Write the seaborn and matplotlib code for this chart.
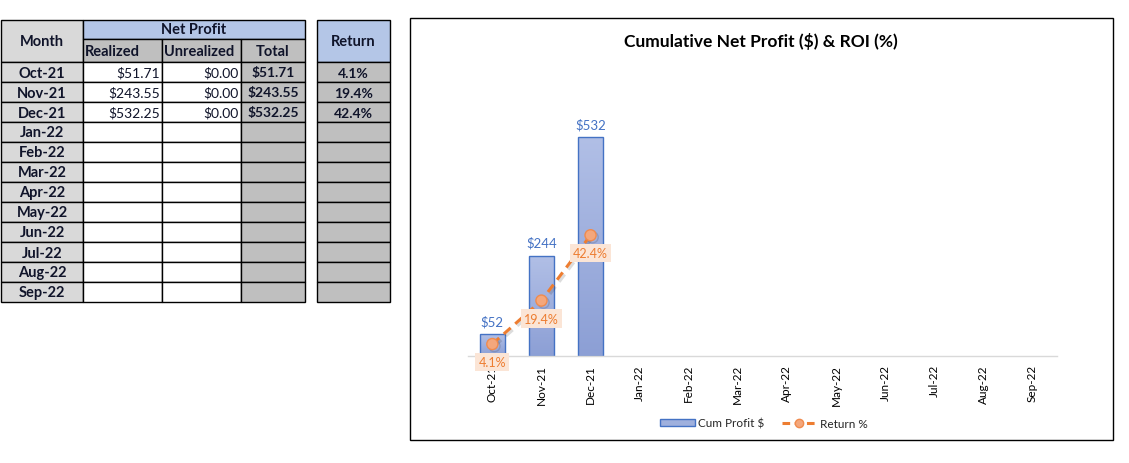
import numpy as np
import pandas as pd
import matplotlib
matplotlib.use("Agg")
import matplotlib.pyplot as plt
import seaborn as sns
from matplotlib.patches import Rectangle, Patch
from matplotlib.lines import Line2D
import matplotlib.patheffects as pe
from matplotlib.colors import LinearSegmentedColormap

# ---------------- data ----------------
months = ["Oct-21", "Nov-21", "Dec-21", "Jan-22", "Feb-22", "Mar-22",
          "Apr-22", "May-22", "Jun-22", "Jul-22", "Aug-22", "Sep-22"]
realized = [51.71, 243.55, 532.25]
unrealized = [0.00, 0.00, 0.00]
total = [51.71, 243.55, 532.25]
returns = [4.1, 19.4, 42.4]
title = "Cumulative Net Profit ($) & ROI (%)"
legend_bar = "Cum Profit $"
legend_line = "Return %"

sns.set_theme(style="white")
plt.rcParams["font.family"] = ["Lato", "DejaVu Sans"]

W, H = 1129, 464
fig = plt.figure(figsize=(W / 100, H / 100), dpi=100)
fig.patch.set_facecolor("white")

# background axes in pixel coordinates (table + chart frame)
bg = fig.add_axes([0, 0, 1, 1], zorder=0)
bg.set_xlim(0, W)
bg.set_ylim(H, 0)
bg.axis("off")

TXT = "#10142a"
LGRAY = "#d9d9d9"
DGRAY = "#bfbfbf"
LBLUE = "#b4c6e7"
FS_HEAD = 10.5
FS_VAL = 10


def cell(x0, x1, y0, y1, fc):
    bg.add_patch(Rectangle((x0, y0), x1 - x0, y1 - y0, facecolor=fc,
                           edgecolor="black", linewidth=1.0, zorder=1))


cx = [1, 83, 162, 241, 305]
rx = [317, 390]
h_top, h_mid, d_top, rh = 21, 40, 63, 20

# headers
cell(cx[0], cx[1], h_top, d_top, LGRAY)
bg.text((cx[0] + cx[1]) / 2, (h_top + d_top) / 2, "Month", ha="center", va="center",
        fontsize=FS_HEAD, fontweight="bold", color=TXT, zorder=3)
cell(cx[1], cx[4], h_top, h_mid, LBLUE)
bg.text((cx[1] + cx[4]) / 2, (h_top + h_mid) / 2, "Net Profit", ha="center", va="center",
        fontsize=FS_HEAD, fontweight="bold", color=TXT, zorder=3)
for i, lab in enumerate(["Realized", "Unrealized", "Total"]):
    cell(cx[i + 1], cx[i + 2], h_mid, d_top, DGRAY)
    ym = (h_mid + d_top) / 2 + 1
    if lab == "Total":
        bg.text((cx[3] + cx[4]) / 2, ym, lab, ha="center", va="center",
                fontsize=FS_HEAD, fontweight="bold", color=TXT, zorder=3)
    else:
        bg.text(cx[i + 1] + 2, ym, lab, ha="left", va="center",
                fontsize=FS_HEAD, fontweight="bold", color=TXT, zorder=3)
cell(rx[0], rx[1], h_top, d_top, LBLUE)
bg.text((rx[0] + rx[1]) / 2, (h_top + d_top) / 2, "Return", ha="center", va="center",
        fontsize=FS_HEAD, fontweight="bold", color=TXT, zorder=3)

# data rows
for k, m in enumerate(months):
    y0 = d_top + k * rh
    y1 = y0 + rh
    ym = (y0 + y1) / 2 + 0.5
    cell(cx[0], cx[1], y0, y1, LGRAY)
    cell(cx[1], cx[2], y0, y1, "white")
    cell(cx[2], cx[3], y0, y1, "white")
    cell(cx[3], cx[4], y0, y1, DGRAY)
    cell(rx[0], rx[1], y0, y1, DGRAY)
    bg.text((cx[0] + cx[1]) / 2, ym, m, ha="center", va="center",
            fontsize=FS_HEAD, fontweight="bold", color=TXT, zorder=3)
    if k < len(realized):
        bg.text(cx[2] - 2, ym, f"${realized[k]:,.2f}", ha="right", va="center",
                fontsize=FS_VAL, color=TXT, zorder=3)
        bg.text(cx[3] - 2, ym, f"${unrealized[k]:,.2f}", ha="right", va="center",
                fontsize=FS_VAL, color=TXT, zorder=3)
        bg.text((cx[3] + cx[4]) / 2, ym, f"${total[k]:,.2f}", ha="center", va="center",
                fontsize=FS_VAL, fontweight="bold", color=TXT, zorder=3)
        bg.text((rx[0] + rx[1]) / 2, ym, f"{returns[k]:.1f}%", ha="center", va="center",
                fontsize=FS_VAL, fontweight="bold", color=TXT, zorder=3)

# chart frame
bg.add_patch(Rectangle((410, 19), 1113 - 410, 441 - 19, facecolor="white",
                       edgecolor="black", linewidth=1.0, zorder=0.5))

# ---------------- chart ----------------
ax = fig.add_axes([467.8 / W, (H - 356.7) / H, 589.2 / W, 246 / H], zorder=2)
ax.patch.set_alpha(0)

df = pd.DataFrame({"month": months, "profit": total + [np.nan] * (len(months) - len(total))})
sns.barplot(data=df, x="month", y="profit", order=months, width=0.5, ax=ax,
            color="#9fb0dd", edgecolor="#4472c4", linewidth=1.0, saturation=1,
            errorbar=None)

cmap = LinearSegmentedColormap.from_list("g", ["#8c9fd5", "#b1bfe6"])
grad = np.linspace(0, 1, 256).reshape(-1, 1)
bars = [p for p in ax.patches if np.isfinite(p.get_height()) and p.get_height() > 0]
for b in bars:
    x0, w, h = b.get_x(), b.get_width(), b.get_height()
    im = ax.imshow(grad, extent=[x0, x0 + w, 0, h], aspect="auto", cmap=cmap,
                   origin="lower", zorder=b.get_zorder() - 0.01)
    im.set_clip_path(b)
    b.set_facecolor("none")

ax.bar_label(ax.containers[0], labels=[f"${v:.0f}" for v in total],
             padding=5, color="#4472c4", fontsize=9.5)

ax.set_xlim(-0.5, len(months) - 0.5)
ax.set_ylim(0, 600)
ax.set_xlabel("")
ax.set_ylabel("")
ax.set_yticks([])
for s in ["left", "right", "top"]:
    ax.spines[s].set_visible(False)
ax.spines["bottom"].set_color(LGRAY)
ax.spines["bottom"].set_linewidth(1.0)
ax.tick_params(axis="x", which="major", length=0, pad=6, labelsize=8.5,
               labelrotation=90, labelcolor="black")
ax.set_xticks(np.arange(-0.5, len(months), 1), minor=True)
ax.tick_params(axis="x", which="minor", length=5, width=1, color=LGRAY, direction="out")

ax2 = ax.twinx()
ax2.patch.set_alpha(0)
ret_df = pd.DataFrame({"pos": np.arange(len(returns)), "ret": returns})
LINE_C = "#ed7d31"
sns.lineplot(data=ret_df, x="pos", y="ret", ax=ax2, color=LINE_C, linewidth=2.2,
             linestyle=(0, (3, 2)), marker="o", markersize=8,
             markerfacecolor="#f4a77c", markeredgecolor="#f08b4e", markeredgewidth=1)
for ln in ax2.lines:
    ln.set_path_effects([pe.SimpleLineShadow(offset=(1.5, -1.5), alpha=0.15), pe.Normal()])
ax2.set_ylim(0, 86.6)
ax2.set_xlim(-0.5, len(months) - 0.5)
ax2.set_yticks([])
ax2.set_ylabel("")
ax2.set_xlabel("")
for s in ax2.spines.values():
    s.set_visible(False)

for i, r in enumerate(returns):
    ax2.annotate(f"{r:.1f}%", (i, r), xytext=(0, -18), textcoords="offset pixels",
                 ha="center", va="center", fontsize=9, color=LINE_C, zorder=5,
                 bbox=dict(boxstyle="square,pad=0.25", fc="#fbe5d6", ec="none"))

# legend
handles = [Patch(facecolor="#9fb0dd", edgecolor="#4472c4", linewidth=1.0, label=legend_bar),
           Line2D([], [], color=LINE_C, linewidth=2.2, linestyle=(0, (2.5, 1.5)), marker="o",
                  markersize=6, markerfacecolor="#f4a77c", markeredgecolor="#f08b4e",
                  label=legend_line)]
fig.legend(handles=handles, loc="center", bbox_to_anchor=(764 / W, 1 - 424 / H), ncol=2,
           frameon=False, fontsize=8.5, handlelength=2.9, columnspacing=1.5,
           handletextpad=0.3, handleheight=0.6)

fig.text(761 / W, 1 - 42 / H, title, ha="center", va="center", fontsize=12.5,
         fontweight="bold", color="black")

fig.savefig("out.png", dpi=100)
